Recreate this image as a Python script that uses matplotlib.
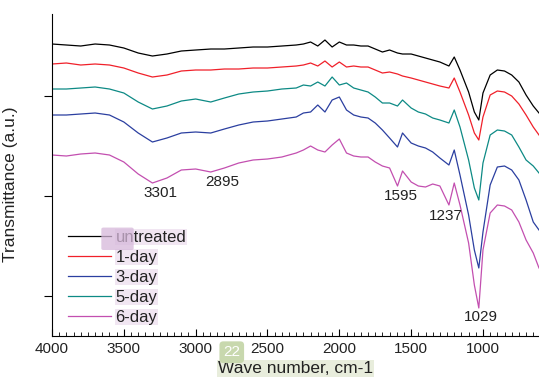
import matplotlib
matplotlib.use('Agg')
import matplotlib.pyplot as plt
from matplotlib.ticker import MultipleLocator, FixedLocator
from matplotlib.patches import FancyBboxPatch

plt.rcParams['font.family'] = ['Liberation Sans', 'DejaVu Sans']

# wave numbers (cm-1) shared by all spectra
wn = [4000, 3900, 3800, 3700, 3600, 3500, 3400, 3301, 3200, 3100, 3000, 2895, 2800,
      2700, 2600, 2500, 2400, 2300, 2250, 2200, 2150, 2100, 2050, 2000, 1950, 1900,
      1850, 1800, 1750, 1700, 1650, 1595, 1560, 1500, 1450, 1400, 1350, 1300, 1237,
      1200, 1160, 1100, 1060, 1029, 1000, 950, 900, 850, 800, 750, 700, 650, 610]

# transmittance (a.u., curves are offset)
untreated = [3.52, 3.51, 3.50, 3.52, 3.51, 3.48, 3.43, 3.40, 3.42, 3.45, 3.46, 3.47, 3.47,
             3.48, 3.49, 3.49, 3.50, 3.51, 3.52, 3.54, 3.50, 3.56, 3.49, 3.54, 3.51, 3.51,
             3.50, 3.50, 3.47, 3.44, 3.46, 3.43, 3.42, 3.42, 3.40, 3.38, 3.36, 3.34, 3.30,
             3.39, 3.26, 3.04, 2.84, 2.76, 3.03, 3.21, 3.26, 3.25, 3.21, 3.14, 3.01, 2.90, 2.83]
day1 = [3.32, 3.33, 3.31, 3.32, 3.31, 3.28, 3.23, 3.19, 3.21, 3.25, 3.26, 3.26, 3.27,
        3.27, 3.28, 3.28, 3.29, 3.30, 3.31, 3.33, 3.30, 3.35, 3.29, 3.34, 3.29, 3.30,
        3.29, 3.29, 3.26, 3.23, 3.24, 3.22, 3.20, 3.18, 3.16, 3.14, 3.12, 3.10, 3.08,
        3.18, 3.04, 2.81, 2.63, 2.56, 2.79, 3.01, 3.05, 3.04, 3.00, 2.92, 2.81, 2.69, 2.61]
day3 = [2.81, 2.81, 2.82, 2.83, 2.81, 2.74, 2.63, 2.54, 2.58, 2.63, 2.64, 2.63, 2.67,
        2.71, 2.74, 2.75, 2.77, 2.79, 2.83, 2.84, 2.91, 2.84, 2.96, 2.99, 2.86, 2.81,
        2.79, 2.78, 2.73, 2.66, 2.58, 2.49, 2.63, 2.53, 2.50, 2.48, 2.44, 2.38, 2.31,
        2.46, 2.21, 1.81, 1.46, 1.28, 1.64, 2.11, 2.29, 2.30, 2.26, 2.16, 1.96, 1.74, 1.66]
day5 = [3.07, 3.07, 3.08, 3.09, 3.07, 3.03, 2.94, 2.87, 2.90, 2.95, 2.97, 2.94, 2.98,
        3.02, 3.04, 3.05, 3.07, 3.08, 3.11, 3.10, 3.14, 3.10, 3.19, 3.11, 3.13, 3.08,
        3.06, 3.04, 2.99, 2.93, 2.93, 2.90, 2.96, 2.88, 2.84, 2.82, 2.78, 2.76, 2.73,
        2.86, 2.69, 2.36, 2.08, 1.96, 2.33, 2.61, 2.66, 2.65, 2.61, 2.49, 2.36, 2.30, 2.23]
day6 = [2.41, 2.40, 2.42, 2.43, 2.41, 2.34, 2.22, 2.13, 2.18, 2.26, 2.27, 2.24, 2.28,
        2.33, 2.36, 2.37, 2.39, 2.43, 2.46, 2.50, 2.46, 2.44, 2.51, 2.57, 2.43, 2.40,
        2.39, 2.39, 2.34, 2.30, 2.28, 2.10, 2.25, 2.14, 2.10, 2.09, 2.12, 2.10, 1.91,
        2.13, 1.91, 1.53, 1.11, 0.88, 1.46, 1.83, 1.91, 1.90, 1.86, 1.74, 1.56, 1.43, 1.28]

series = [('untreated', untreated, '#000000'),
          ('1-day', day1, '#f0202a'),
          ('3-day', day3, '#2b3fa0'),
          ('5-day', day5, '#0d8a85'),
          ('6-day', day6, '#c34fb0')]

# band labels: text, wave number, y position
peaks = ['3301', '2895', '1595', '1237', '1029']
peak_x = [3248, 2816, 1570, 1256, 1013]
peak_y = [2.03, 2.14, 2.00, 1.80, 0.79]

fig = plt.figure(figsize=(5.39, 3.87), dpi=100)
ax = fig.add_axes([0.0965, 0.1318, 0.9035, 0.832])

for name, vals, c in series:
    ax.plot(wn, vals, color=c, lw=0.9, label=name)

for t, x, y in zip(peaks, peak_x, peak_y):
    ax.text(x, y, t, ha='center', va='center', fontsize=11, color='#222222')

ax.set_xlim(4000, 610)
ax.set_ylim(0.60, 3.82)
ax.xaxis.set_major_locator(FixedLocator([4000, 3500, 3000, 2500, 2000, 1500, 1000]))
ax.xaxis.set_minor_locator(MultipleLocator(50))
ax.set_yticks([1, 2, 3])
ax.set_yticklabels([])
ax.tick_params(axis='x', which='major', direction='in', length=5, labelsize=11,
               labelcolor='#222222', pad=4)
ax.tick_params(axis='x', which='minor', direction='in', length=3)
ax.tick_params(axis='y', direction='out', length=6)
ax.spines['top'].set_visible(False)
ax.spines['right'].set_visible(False)

ax.set_ylabel('Transmittance (a.u.)', fontsize=12.5, color='#222222')
ax.yaxis.set_label_coords(-0.069, 0.47)
ax.set_xlabel('Wave number, cm-1', fontsize=12.5, color='#222222', labelpad=4,
              bbox=dict(boxstyle='square,pad=0.05', fc='#e8eddc', ec='none'))

leg = ax.legend(loc='upper left', bbox_to_anchor=(0.033, 0.33), frameon=False,
                borderpad=0, borderaxespad=0, fontsize=12, handlelength=2.6,
                labelspacing=0.3, handletextpad=0.25)
for t in leg.get_texts():
    t.set_color('#222222')
    t.set_bbox(dict(boxstyle='square,pad=0.02', fc='#f1e6f2', ec='none'))

# overlay badges visible on the original picture
fig.text(0.43, 0.09, '22', color='white', fontsize=11, ha='center', va='center',
         bbox=dict(boxstyle='round,pad=0.25', fc='#c8d8ae', ec='none'))
fig.patches.append(FancyBboxPatch((0.192, 0.358), 0.052, 0.05, boxstyle='round,pad=0.004',
                                  fc='#d6b8da', ec='none', alpha=0.75,
                                  transform=fig.transFigure, figure=fig))

fig.savefig('out.png', dpi=100)
